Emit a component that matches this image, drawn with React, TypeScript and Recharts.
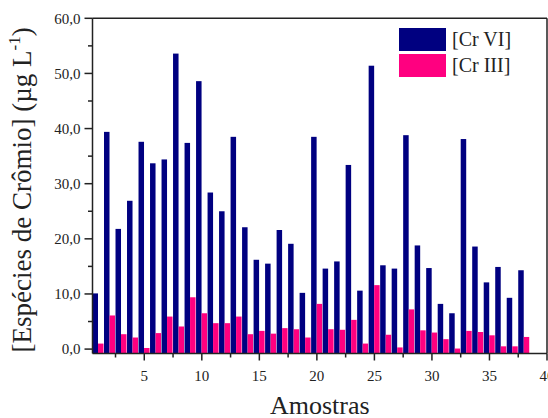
import React from "react";
import { BarChart, Bar, XAxis, YAxis, Legend, ReferenceLine } from "recharts";

const samples = [1,2,3,4,5,6,7,8,9,10,11,12,13,14,15,16,17,18,19,20,21,22,23,24,25,26,27,28,29,30,31,32,33,34,35,36,37,38];
const crVI = [10.1, 39.4, 21.8, 26.9, 37.6, 33.7, 34.4, 53.6, 37.4, 48.6, 28.4, 25.0, 38.5, 22.1, 16.2, 15.5, 21.6, 19.1, 10.2, 38.5, 14.6, 15.9, 33.4, 10.6, 51.4, 15.2, 14.6, 38.8, 18.8, 14.7, 8.2, 6.5, 38.1, 18.6, 12.1, 14.9, 9.3, 14.3];
const crIII = [1.0, 6.1, 2.7, 2.1, 0.2, 2.9, 5.9, 4.1, 9.4, 6.5, 4.7, 4.7, 5.9, 2.7, 3.3, 2.8, 3.8, 3.6, 2.1, 8.2, 3.6, 3.5, 5.3, 1.0, 11.6, 2.6, 0.3, 7.2, 3.4, 3.0, 1.8, 0.1, 3.3, 3.1, 2.5, 0.5, 0.5, 2.2];
const xTicks = [2.5, 5, 7.5, 10, 12.5, 15, 17.5, 20, 22.5, 25, 27.5, 30, 32.5, 35, 37.5, 40];
const yTicks = [0, 5, 10, 15, 20, 25, 30, 35, 40, 45, 50, 55, 60];
const legendOrder = ["[Cr VI]", "[Cr III]"];

const data = samples.map((s, i) => ({ sample: s, vi: crVI[i], iii: crIII[i] }));

const FONT = "'Liberation Serif', 'Times New Roman', serif";

const XTick = (props: any) => {
  const { x, y, payload } = props;
  const v = payload.value;
  const major = v % 5 === 0;
  return (
    <g>
      <line x1={x} x2={x} y1={y} y2={y + (major ? 7 : 4)} stroke="#222" strokeWidth={1.5} />
      {major && (
        <text x={x} y={y + 27} textAnchor="middle" fontFamily={FONT} fontSize={15} fill="#222">
          {String(v)}
        </text>
      )}
    </g>
  );
};

const YTick = (props: any) => {
  const { x, y, payload } = props;
  const v = payload.value;
  const major = v % 10 === 0;
  return (
    <g>
      <line x1={x} x2={x - (major ? 8 : 4.5)} y1={y} y2={y} stroke="#222" strokeWidth={1.5} />
      {major && (
        <text x={x - 12} y={y} dy="0.35em" textAnchor="end" fontFamily={FONT} fontSize={15} fill="#222">
          {v.toFixed(1).replace(".", ",")}
        </text>
      )}
    </g>
  );
};

const BarShape = (props: any) => {
  const { x, y, width, height, fill, background } = props;
  const bottom = background && typeof background.y === "number" ? background.y + background.height : y + height;
  return <rect x={x} y={y} width={width} height={Math.max(0, bottom - y)} fill={fill} />;
};

const LegendContent = (props: any) => {
  const payload = [...(props.payload || [])].sort(
    (a: any, b: any) => legendOrder.indexOf(a.value) - legendOrder.indexOf(b.value)
  );
  return (
    <div style={{ fontFamily: FONT, fontSize: 20, color: "#222" }}>
      {payload.map((p: any, i: number) => (
        <div key={i} style={{ display: "flex", alignItems: "center", height: 26, marginBottom: 0 }}>
          <div style={{ width: 47, height: 23, background: p.color, marginRight: 6 }} />
          <span style={{ lineHeight: "23px" }}>{p.value}</span>
        </div>
      ))}
    </div>
  );
};

const YTitle = (props: any) => {
  const vb = props.viewBox || {};
  const cx = 31;
  const cy = (vb.y ?? 18) + (vb.height ?? 335) / 2 + 4;
  return (
    <text transform={`translate(${cx},${cy}) rotate(-90)`} textAnchor="middle" fontFamily={FONT} fontSize={27} fill="#222">
      <tspan>[Espécies de Crômio] (µg L</tspan>
      <tspan fontSize={17} dy={-11}>-1</tspan>
      <tspan dy={11}>)</tspan>
    </text>
  );
};

const XTitle = (props: any) => {
  const vb = props.viewBox || {};
  const cx = (vb.x ?? 92) + (vb.width ?? 455) / 2;
  const cy = (vb.y ?? 353) + 60;
  return (
    <text x={cx} y={cy} textAnchor="middle" fontFamily={FONT} fontSize={26} fill="#222">
      Amostras
    </text>
  );
};

export default function App() {
  return (
    <div style={{ position: "absolute", left: 0, top: 0, width: 548, height: 418, background: "#fff" }}>
      <BarChart
        width={548}
        height={418}
        data={data}
        margin={{ top: 18.3, right: 1, bottom: 34.5, left: 0 }}
        barGap={0}
      >
        <XAxis
          dataKey="sample"
          type="number"
          domain={[0.5, 40]}
          ticks={xTicks}
          interval={0}
          height={30}
          tickSize={0}
          tickMargin={0}
          tickLine={false}
          tick={<XTick />}
          axisLine={{ stroke: "#222", strokeWidth: 1.5 }}
          allowDataOverflow
          label={<XTitle />}
        />
        <YAxis
          type="number"
          domain={[-0.8, 60]}
          ticks={yTicks}
          interval={0}
          width={92.5}
          tickSize={0}
          tickMargin={0}
          tickLine={false}
          tick={<YTick />}
          axisLine={{ stroke: "#222", strokeWidth: 1.5 }}
          allowDataOverflow
          label={<YTitle />}
        />
        <ReferenceLine y={60} stroke="#222" strokeWidth={1.5} />
        <ReferenceLine x={40} stroke="#222" strokeWidth={1.5} />
        <Bar dataKey="vi" name="[Cr VI]" fill="#000080" barSize={5.5} isAnimationActive={false} shape={<BarShape />} />
        <Bar dataKey="iii" name="[Cr III]" fill="#FF0080" barSize={5.5} isAnimationActive={false} shape={<BarShape />} />
        <Legend
          layout="vertical"
          align="center"
          verticalAlign="middle"
          content={<LegendContent />}
          wrapperStyle={{ position: "absolute", left: 399, top: 26, width: "auto", height: "auto" }}
        />
      </BarChart>
    </div>
  );
}
